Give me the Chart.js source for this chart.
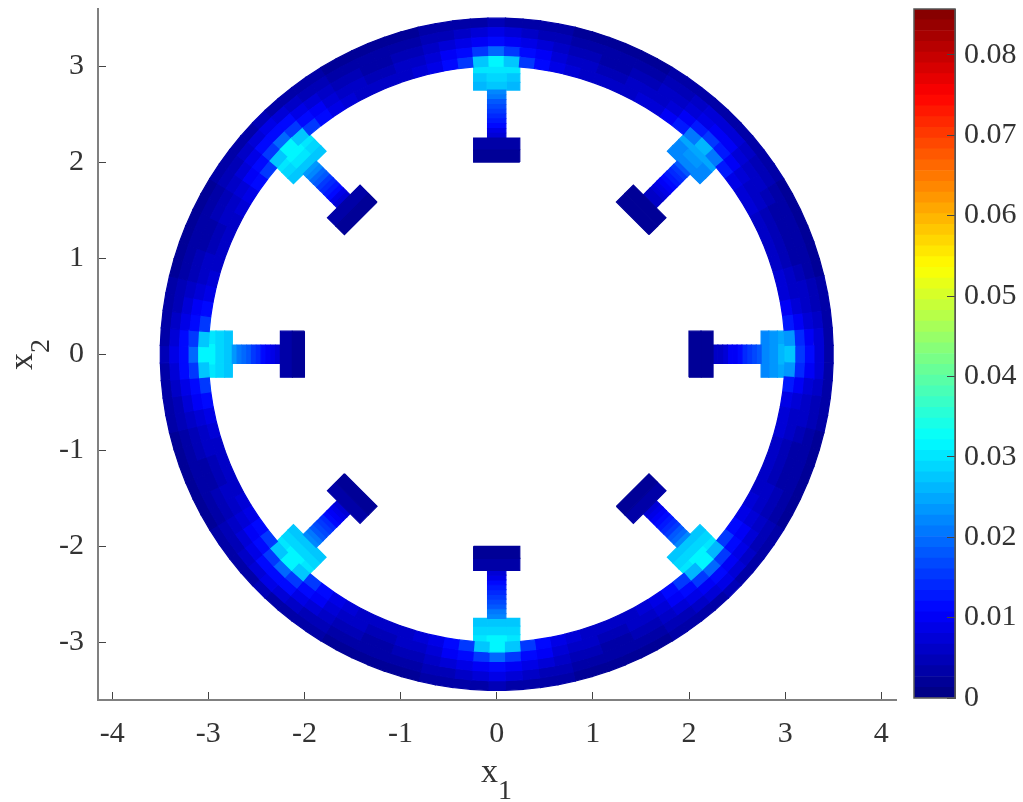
<!DOCTYPE html>
<html>
<head>
<meta charset="utf-8">
<title>Ring field</title>
<script src="https://cdn.jsdelivr.net/npm/chart.js@4"></script>
<style>
  html, body { margin: 0; padding: 0; background: #fff; }
  #wrap { position: relative; width: 1023px; height: 802px; overflow: hidden; }
  canvas { position: absolute; top: 0; }
  #fieldChart { left: 0; }
  #barChart { left: 900px; }
  .axisName { position: absolute; font: 34px "Liberation Serif", serif; color: #333; line-height: 34px; white-space: nowrap; }
  .axisName sub { font-size: 28px; line-height: 0; vertical-align: -17px; }
  #xName { left: 481px; top: 754px; }
  #yName { left: 3.5px; top: 369.5px; transform: rotate(-90deg); transform-origin: 0 0; }
</style>
</head>
<body>
<div id="wrap">
  <canvas id="fieldChart" width="900" height="802"></canvas>
  <canvas id="barChart" width="123" height="802"></canvas>
  <div class="axisName" id="xName">x<sub>1</sub></div>
  <div class="axisName" id="yName">x<sub>2</sub></div>
</div>
<script>
const xTicks = [-4, -3, -2, -1, 0, 1, 2, 3, 4];
const yTicks = [-3, -2, -1, 0, 1, 2, 3];
const barTicks = [0, 0.01, 0.02, 0.03, 0.04, 0.05, 0.06, 0.07, 0.08];
const colorMax = 0.0857;
const colorLevels = 64;

// ring: 120 sectors of 3 degrees, first one centred on angle 0, values in 1e-3
const ringRadii = [3, 3.1, 3.2, 3.3, 3.4, 3.5];
const sectorDegrees = 3;
const ringLayer1 = [
  27,23,13,10,8,7,6,5.5, 5.5,6,7,7.5,8.5,12.5,21,
  26,21,12.5,9.5,8,7,6.5,6, 6,6.5,7.5,9,11,15.5,27,
  31,27,15.5,11,9,7.5,6.5,6, 6,6.5,7.5,9,11,15.5,27,
  32,27,16,11,9,7.5,6.5,6, 6,6.5,7.5,9,11,16,27,
  32,27,16,11,9,7.5,6.5,6, 6,6.5,7.5,9,11,16,27,
  31,27,16,11,9,7.5,6.5,6, 6,6.5,7.5,9,11,15.5,27,
  31,27,15.5,11,9,7.5,6.5,6, 6,6.5,7.5,9,11,15.5,26,
  31,26,15,11,9,7.5,6.5,6, 5.5,6,7,7.5,9,12.5,23
];
const ringLayer2 = [
  16,14,10.5,8,6.5,6,5,4.5, 4.5,5,6,6.5,7.5,10,13,
  15,13,10,8,6.5,6,5.5,5, 5,5.5,6.5,7.5,9.5,12,16,
  19,16,12,10,7.5,6.5,5.5,5, 5,5.5,6.5,7.5,10,12,16,
  19,16,12,10,7.5,6.5,5.5,5, 5,5.5,6.5,7.5,10,12,16,
  19,16,12,10,7.5,6.5,5.5,5, 5,5.5,6.5,7.5,10,12,16,
  19,16,12,10,7.5,6.5,5.5,5, 5,5.5,6.5,7.5,10,12,16,
  19,16,12,10,7.5,6.5,5.5,5, 5,5.5,6.5,7.5,10,12,15.5,
  19,15.5,12,9.5,7.5,6.5,5.5,5, 4.5,5,6,6.5,8,10.5,14
];
const ringLayer3 = [
  11,10,8,6.5,5.5,5,4,3.5, 3.5,4,5,5.5,6.5,7.5,9.5,
  10,9,7.5,6.5,5.5,5,4.5,4, 4,4.5,5,6,7,8.5,10.5,
  12,10.5,8.5,7,6,5,4.5,4, 4,4.5,5,6,7,8.5,11,
  12,11,8.5,7,6,5,4.5,4, 4,4.5,5,6,7,8.5,11,
  12,11,8.5,7,6,5,4.5,4, 4,4.5,5,6,7,8.5,11,
  12,11,8.5,7,6,5,4.5,4, 4,4.5,5,6,7,8.5,10.5,
  12,10.5,8.5,7,6,5,4.5,4, 4,4.5,5,6,7,8.5,10.5,
  12,10.5,8.5,7,6,5,4.5,4, 3.5,4,5,5.5,6.5,7.5,10
];
const ringLayer4 = [
  8,7,6,5,4.5,4,3.5,3, 3,3.5,4,4.5,5,6,7,
  7.5,7,6,5,4.5,4,3.5,3, 3,3.5,4,4.5,5,6,7.5,
  8.5,7.5,6,5,4.5,4,3.5,3, 3,3.5,4,4.5,5,6,7.5,
  8.5,7.5,6,5,4.5,4,3.5,3, 3,3.5,4,4.5,5,6,7.5,
  8.5,7.5,6,5,4.5,4,3.5,3, 3,3.5,4,4.5,5,6,7.5,
  8.5,7.5,6,5,4.5,4,3.5,3, 3,3.5,4,4.5,5,6,7.5,
  8.5,7.5,6,5,4.5,4,3.5,3, 3,3.5,4,4.5,5,6,7.5,
  8.5,7.5,6,5,4.5,4,3.5,3, 3,3.5,4,4.5,5,6,7
];
const ringLayer5 = [
  4,3.8,3.3,3,2.8,2.5,2.2,2, 2,2.2,2.5,2.8,3,3.3,3.8,
  4,3.8,3.3,3,2.8,2.5,2.2,2, 2,2.2,2.5,2.8,3,3.5,4,
  4.5,4,3.5,3,2.8,2.5,2.2,2, 2,2.2,2.5,2.8,3,3.5,4,
  4.5,4,3.5,3,2.8,2.5,2.2,2, 2,2.2,2.5,2.8,3,3.5,4,
  4.5,4,3.5,3,2.8,2.5,2.2,2, 2,2.2,2.5,2.8,3,3.5,4,
  4.5,4,3.5,3,2.8,2.5,2.2,2, 2,2.2,2.5,2.8,3,3.5,4,
  4.5,4,3.5,3,2.8,2.5,2.2,2, 2,2.2,2.5,2.8,3,3.5,4,
  4.5,4,3.5,3,2.8,2.5,2.2,2, 2,2.2,2.5,2.8,3,3.3,3.8
];
const ringLayers = [ringLayer1, ringLayer2, ringLayer3, ringLayer4, ringLayer5];

// spokes: two foot stations, ten stem stations, three head stations, going outward
const spokeAngles = [0, 45, 90, 135, 180, 225, 270, 315];
const stationRadii = [2, 2.125, 2.25, 2.3, 2.35, 2.4, 2.45, 2.5, 2.55, 2.6, 2.65, 2.7, 2.75, 2.83, 2.92, 3];
const footHalfWidth = 0.24;
const stemHalfWidth = 0.095;
const headHalfWidth = 0.24;
const headCoreHalfWidth = 0.1;
const spokeCentre = [
  [2, 2.5, 5.5, 6.5, 8, 9.5, 10.5, 12, 13.5, 15, 16.5, 18.5, 22.5, 23.5, 25.5],
  [2, 2.5, 5.5, 6.5, 7.5, 9, 10, 11.5, 13, 14.5, 16, 18, 22, 23, 25],
  [2, 3, 7.5, 9, 11, 12.5, 14, 15.5, 17, 18.5, 20.5, 22.5, 27, 28.5, 30.5],
  [2, 3, 7.5, 9, 11, 12.5, 14, 16, 17.5, 19.5, 21.5, 23.5, 28, 29.5, 31],
  [2, 3, 7.5, 9, 10.5, 12, 14, 15.5, 17.5, 19, 21, 23, 28, 29, 31],
  [2, 3, 7.5, 9, 10.5, 12, 13.5, 15, 17, 18.5, 20.5, 22.5, 28, 29, 31],
  [2, 3, 7.5, 9, 11, 12.5, 14, 15.5, 17, 18.5, 20.5, 22.5, 28, 29, 31],
  [2, 3, 7, 8.5, 10, 11.5, 13, 14.5, 16, 18, 20, 22.5, 27.5, 29, 31]
];
const headSides = [
  [22, 23, 25],
  [21.5, 22.5, 24.5],
  [26.5, 28, 30],
  [27.5, 29, 30.5],
  [27.5, 28.5, 30.5],
  [27.5, 28.5, 30.5],
  [27.5, 28.5, 30.5],
  [27, 28.5, 30.5]
];

function jetColor(v) {
  const level = Math.min(colorLevels - 1, Math.floor(v / colorMax * colorLevels));
  const t = (level + 0.5) / colorLevels;
  const ramp = c => Math.round(255 * Math.max(0, Math.min(1, 1.5 - Math.abs(4 * t - c))));
  return 'rgb(' + ramp(3) + ',' + ramp(2) + ',' + ramp(1) + ')';
}

function cellDataset(corners, value) {
  const color = jetColor(value * 0.001);
  return {
    data: corners.concat([corners[0]]),
    showLine: true,
    fill: 'shape',
    backgroundColor: color,
    borderColor: color,
    borderWidth: 1.2,
    pointRadius: 0,
    tension: 0
  };
}

function polar(r, deg) {
  const a = deg * Math.PI / 180;
  return { x: r * Math.cos(a), y: r * Math.sin(a) };
}

function spokePoint(deg, u, w) {
  const a = deg * Math.PI / 180;
  return { x: u * Math.cos(a) - w * Math.sin(a), y: u * Math.sin(a) + w * Math.cos(a) };
}

const cells = [];

ringLayers.forEach((layer, j) => {
  layer.forEach((value, i) => {
    const a0 = (i - 0.5) * sectorDegrees;
    const a1 = (i + 0.5) * sectorDegrees;
    cells.push(cellDataset([
      polar(ringRadii[j], a0), polar(ringRadii[j + 1], a0),
      polar(ringRadii[j + 1], a1), polar(ringRadii[j], a1)
    ], value));
  });
});

spokeAngles.forEach((deg, s) => {
  spokeCentre[s].forEach((value, k) => {
    const u0 = stationRadii[k];
    const u1 = stationRadii[k + 1];
    let half = stemHalfWidth;
    if (k < 2) half = footHalfWidth;
    if (k > 11) half = headCoreHalfWidth;
    cells.push(cellDataset([
      spokePoint(deg, u0, -half), spokePoint(deg, u1, -half),
      spokePoint(deg, u1, half), spokePoint(deg, u0, half)
    ], value));
    if (k > 11) {
      const side = headSides[s][k - 12];
      [-1, 1].forEach(sign => {
        cells.push(cellDataset([
          spokePoint(deg, u0, sign * headCoreHalfWidth), spokePoint(deg, u1, sign * headCoreHalfWidth),
          spokePoint(deg, u1, sign * headHalfWidth), spokePoint(deg, u0, sign * headHalfWidth)
        ], side));
      });
    }
  });
});

const tickFont = { family: '"Liberation Serif", serif', size: 30 };

function axisStyle(values) {
  return {
    type: 'linear',
    afterBuildTicks: scale => { scale.ticks = values.map(v => ({ value: v })); },
    grid: { drawOnChartArea: false, tickLength: -8, color: '#444', lineWidth: 1, z: 1 },
    border: { color: '#808080', width: 2, z: 2 }
  };
}

new Chart(document.getElementById('fieldChart'), {
  type: 'scatter',
  data: { datasets: cells },
  options: {
    responsive: false,
    animation: false,
    events: [],
    layout: { padding: { top: 9, right: 4 } },
    plugins: { legend: { display: false }, tooltip: { enabled: false } },
    scales: {
      x: Object.assign(axisStyle(xTicks), {
        min: -4.147,
        max: 4.153,
        afterFit: scale => { scale.height = 102; scale.paddingLeft = 0; scale.paddingRight = 0; },
        ticks: { font: tickFont, color: '#333', padding: 24, maxRotation: 0, callback: v => v }
      }),
      y: Object.assign(axisStyle(yTicks), {
        min: -3.6,
        max: 3.594,
        afterFit: scale => { scale.width = 98; scale.paddingTop = 0; scale.paddingBottom = 0; },
        ticks: { font: tickFont, color: '#333', padding: 22, callback: v => v }
      })
    }
  }
});

// colour bar, one floating bar per colour level
const barSets = [];
for (let n = 0; n < colorLevels; n++) {
  const lo = n * colorMax / colorLevels;
  const hi = (n + 1) * colorMax / colorLevels;
  barSets.push({
    data: [[lo, hi]],
    backgroundColor: jetColor((lo + hi) / 2),
    borderWidth: 0,
    barPercentage: 1,
    categoryPercentage: 1,
    grouped: false
  });
}

const barOutline = {
  id: 'barOutline',
  afterDraw(chart) {
    const a = chart.chartArea;
    const ctx = chart.ctx;
    ctx.save();
    ctx.strokeStyle = '#555';
    ctx.lineWidth = 1.5;
    ctx.strokeRect(a.left, a.top, a.right - a.left, a.bottom - a.top);
    ctx.restore();
  }
};

new Chart(document.getElementById('barChart'), {
  type: 'bar',
  data: { labels: [''], datasets: barSets },
  plugins: [barOutline],
  options: {
    responsive: false,
    animation: false,
    events: [],
    layout: { padding: { left: 14, top: 9, bottom: 104 } },
    plugins: { legend: { display: false }, tooltip: { enabled: false } },
    scales: {
      x: { display: false },
      y: Object.assign(axisStyle(barTicks), {
        position: 'right',
        min: 0,
        max: colorMax,
        afterFit: scale => { scale.width = 68; scale.paddingTop = 0; scale.paddingBottom = 0; },
        border: { color: '#555', width: 1, z: 2 },
        ticks: { font: tickFont, color: '#333', padding: 17, callback: v => v }
      })
    }
  }
});
</script>
</body>
</html>
